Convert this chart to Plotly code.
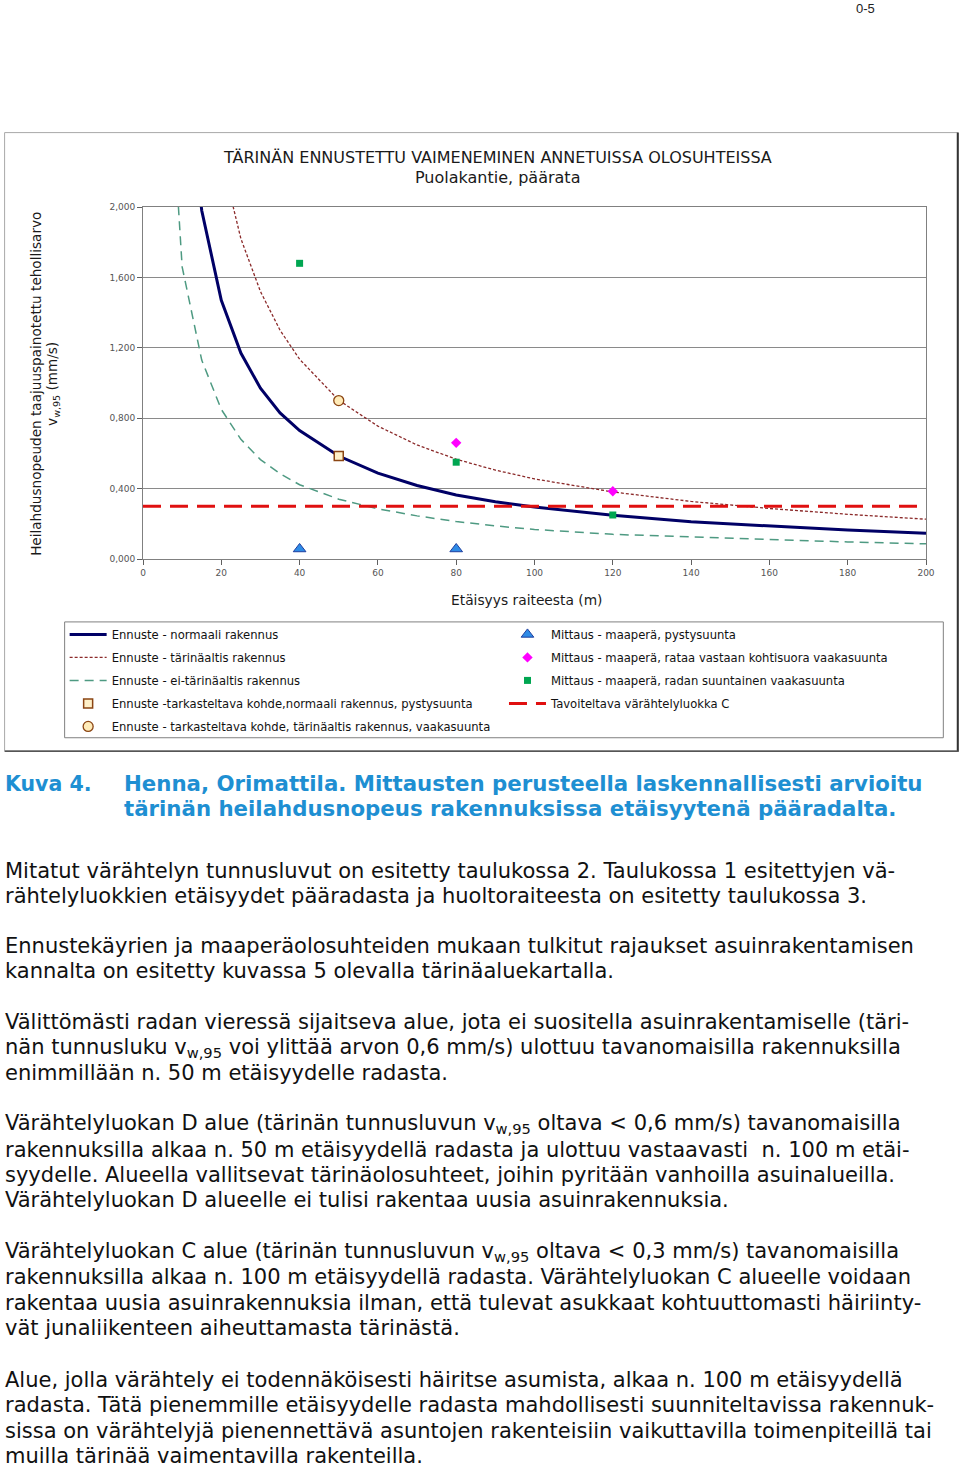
import plotly.graph_objects as go

# ---------------- data ----------------
normal_x = [10, 15, 20, 25, 30, 35, 40, 50, 60, 70, 80, 90, 100, 120, 140, 160, 180, 200]
normal_v = [2.93, 1.98, 1.47, 1.17, 0.97, 0.83, 0.73, 0.585, 0.488, 0.418, 0.364, 0.325, 0.295, 0.248, 0.211, 0.187, 0.165, 0.146]

vuln_x = [20, 25, 30, 35, 40, 50, 60, 70, 80, 90, 100, 120, 140, 160, 180, 200]
vuln_v = [2.28, 1.82, 1.52, 1.30, 1.135, 0.902, 0.755, 0.648, 0.567, 0.505, 0.455, 0.381, 0.327, 0.287, 0.254, 0.226]

nonvuln_x = [5, 10, 15, 20, 25, 30, 35, 40, 50, 60, 70, 80, 90, 100, 120, 140, 160, 180, 200]
nonvuln_v = [3.45, 1.66, 1.13, 0.85, 0.68, 0.565, 0.485, 0.422, 0.34, 0.285, 0.245, 0.213, 0.188, 0.168, 0.140, 0.124, 0.111, 0.097, 0.086]

pred_sq_x = [50]
pred_sq_v = [0.585]
pred_circ_x = [50]
pred_circ_v = [0.90]

meas_tri_x = [40, 80]
meas_tri_v = [0.057, 0.057]
meas_dia_x = [80, 120]
meas_dia_v = [0.66, 0.385]
meas_sq_x = [40, 80, 120]
meas_sq_v = [1.68, 0.55, 0.25]

target_x = [0, 200]
target_v = [0.3, 0.3]

y_ticks = [0, 0.4, 0.8, 1.2, 1.6, 2.0]
y_ticktext = ["0,000", "0,400", "0,800", "1,200", "1,600", "2,000"]
x_ticks = [0, 20, 40, 60, 80, 100, 120, 140, 160, 180, 200]

names = [
    "Ennuste - normaali rakennus",
    "Ennuste - tärinäaltis rakennus",
    "Ennuste - ei-tärinäaltis rakennus",
    "Ennuste -tarkasteltava kohde,normaali rakennus, pystysuunta",
    "Ennuste - tarkasteltava kohde, tärinäaltis rakennus, vaakasuunta",
    "Mittaus - maaperä, pystysuunta",
    "Mittaus - maaperä, rataa vastaan kohtisuora vaakasuunta",
    "Mittaus - maaperä, radan suuntainen vaakasuunta",
    "Tavoiteltava värähtelyluokka C",
]

chart_title = ["TÄRINÄN ENNUSTETTU VAIMENEMINEN ANNETUISSA OLOSUHTEISSA", "Puolakantie, päärata"]
y_title = ["Heilahdusnopeuden taajuuspainotettu tehollisarvo", "v<sub>w,95</sub> (mm/s)"]
x_title = "Etäisyys raiteesta (m)"

caption_label = "Kuva 4."
caption_lines = [
    "Henna, Orimattila. Mittausten perusteella laskennallisesti arvioitu",
    "tärinän heilahdusnopeus rakennuksissa etäisyytenä pääradalta.",
]
body_lines = [
    (871, "Mitatut värähtelyn tunnusluvut on esitetty taulukossa 2. Taulukossa 1 esitettyjen vä-"),
    (896, "rähtelyluokkien etäisyydet pääradasta ja huoltoraiteesta on esitetty taulukossa 3."),
    (947, "Ennustekäyrien ja maaperäolosuhteiden mukaan tulkitut rajaukset asuinrakentamisen"),
    (972, "kannalta on esitetty kuvassa 5 olevalla tärinäaluekartalla."),
    (1023, "Välittömästi radan vieressä sijaitseva alue, jota ei suositella asuinrakentamiselle (täri-"),
    (1049, "nän tunnusluku v<sub>w,95</sub> voi ylittää arvon 0,6 mm/s) ulottuu tavanomaisilla rakennuksilla"),
    (1074, "enimmillään n. 50 m etäisyydelle radasta."),
    (1125, "Värähtelyluokan D alue (tärinän tunnusluvun v<sub>w,95</sub> oltava &lt; 0,6 mm/s) tavanomaisilla"),
    (1151, "rakennuksilla alkaa n. 50 m etäisyydellä radasta ja ulottuu vastaavasti  n. 100 m etäi-"),
    (1176, "syydelle. Alueella vallitsevat tärinäolosuhteet, joihin pyritään vanhoilla asuinalueilla."),
    (1201, "Värähtelyluokan D alueelle ei tulisi rakentaa uusia asuinrakennuksia."),
    (1253, "Värähtelyluokan C alue (tärinän tunnusluvun v<sub>w,95</sub> oltava &lt; 0,3 mm/s) tavanomaisilla"),
    (1278, "rakennuksilla alkaa n. 100 m etäisyydellä radasta. Värähtelyluokan C alueelle voidaan"),
    (1304, "rakentaa uusia asuinrakennuksia ilman, että tulevat asukkaat kohtuuttomasti häiriinty-"),
    (1329, "vät junaliikenteen aiheuttamasta tärinästä."),
    (1381, "Alue, jolla värähtely ei todennäköisesti häiritse asumista, alkaa n. 100 m etäisyydellä"),
    (1406, "radasta. Tätä pienemmille etäisyydelle radasta mahdollisesti suunniteltavissa rakennuk-"),
    (1432, "sissa on värähtelyjä pienennettävä asuntojen rakenteisiin vaikuttavilla toimenpiteillä tai"),
    (1457, "muilla tärinää vaimentavilla rakenteilla."),
]
page_no = "0-5"

# ---------------- layout geometry ----------------
FIG_W, FIG_H = 960, 1467
L, R, T, B = 143.3, 925.7, 206.5, 559.0
W, H = R - L, B - T


def px(x):
    return (x - L) / W


def py(y):
    return (B - y) / H


CF = "DejaVu Sans"

fig = go.Figure()

fig.add_trace(go.Scatter(x=normal_x, y=normal_v, mode="lines", name=names[0],
                         line=dict(color="#000066", width=3), legend="legend", legendgroup="g0"))
fig.add_trace(go.Scatter(x=vuln_x, y=vuln_v, mode="lines", name=names[1],
                         line=dict(color="#8B2A2A", width=1.3, dash="3px,2px"), legend="legend", legendgroup="g1"))
fig.add_trace(go.Scatter(x=nonvuln_x, y=nonvuln_v, mode="lines", name=names[2],
                         line=dict(color="#4E9A82", width=1.5, dash="9px,6px"), legend="legend", legendgroup="g2"))
fig.add_trace(go.Scatter(x=pred_sq_x, y=pred_sq_v, mode="markers", name=names[3],
                         marker=dict(symbol="square", size=9, color="#FFF0C8",
                                     line=dict(color="#8B4513", width=1.5)), legend="legend", legendgroup="g3"))
fig.add_trace(go.Scatter(x=pred_circ_x, y=pred_circ_v, mode="markers", name=names[4],
                         marker=dict(symbol="circle", size=10, color="#FFEBB8",
                                     line=dict(color="#8B4513", width=1.3)), legend="legend", legendgroup="g4"))

fig.add_trace(go.Scatter(x=meas_tri_x, y=meas_tri_v, mode="markers", name=names[5],
                         marker=dict(symbol="triangle-up", size=11, color="#2E8BE6",
                                     line=dict(color="#1F3F9F", width=1)), legend="legend2", legendgroup="h0"))
fig.add_trace(go.Scatter(x=meas_dia_x, y=meas_dia_v, mode="markers", name=names[6],
                         marker=dict(symbol="diamond", size=8, color="#FF00FF"), legend="legend2", legendgroup="h1"))
fig.add_trace(go.Scatter(x=meas_sq_x, y=meas_sq_v, mode="markers", name=names[7],
                         marker=dict(symbol="square", size=7, color="#00A651"), legend="legend2", legendgroup="h2"))
fig.add_trace(go.Scatter(x=target_x, y=target_v, mode="lines", name=names[8],
                         line=dict(color="#E01010", width=3, dash="18px,9px"), legend="legend2", legendgroup="h3"))

annotations = []
for i, (t, yy) in enumerate(zip(chart_title, [157, 177])):
    annotations.append(dict(text=t, x=px(498), y=py(yy), xref="paper", yref="paper", showarrow=False,
                            xanchor="center", yanchor="middle", font=dict(family=CF, size=16, color="#1a1a1a")))
for t, xx in zip(y_title, [37, 54]):
    annotations.append(dict(text=t, x=px(xx), y=py(384), xref="paper", yref="paper", showarrow=False,
                            textangle=-90, xanchor="center", yanchor="middle",
                            font=dict(family=CF, size=13.6, color="#1a1a1a")))
annotations.append(dict(text=x_title, x=px(527), y=py(600), xref="paper", yref="paper", showarrow=False,
                        xanchor="center", yanchor="middle", font=dict(family=CF, size=13.8, color="#1a1a1a")))

BLUE = "#1E8FD2"
TF = "DejaVu Sans"
annotations.append(dict(text="<b>" + caption_label + "</b>", x=px(3), y=py(784), xref="paper", yref="paper",
                        showarrow=False, xanchor="left", yanchor="middle",
                        font=dict(family=TF, size=20.5, color=BLUE)))
for t, yy in zip(caption_lines, [784, 809]):
    annotations.append(dict(text="<b>" + t + "</b>", x=px(122), y=py(yy), xref="paper", yref="paper",
                            showarrow=False, xanchor="left", yanchor="middle",
                            font=dict(family=TF, size=21.3, color=BLUE)))
for yy, t in body_lines:
    annotations.append(dict(text=t, x=px(3), y=py(yy), xref="paper", yref="paper",
                            showarrow=False, xanchor="left", yanchor="middle",
                            font=dict(family=TF, size=21, color="#111111")))
annotations.append(dict(text=page_no, x=px(865), y=py(8), xref="paper", yref="paper", showarrow=False,
                        xanchor="center", yanchor="middle",
                        font=dict(family="Liberation Sans Narrow, Liberation Sans", size=13, color="#222")))

shapes = [
    # chart frame
    dict(type="rect", xref="paper", yref="paper", x0=px(5), x1=px(957), y0=py(132), y1=py(751),
         line=dict(color="#A8A8A8", width=1), layer="below"),
    dict(type="line", xref="paper", yref="paper", x0=px(957.5), x1=px(957.5), y0=py(132), y1=py(752),
         line=dict(color="#333333", width=2)),
    dict(type="line", xref="paper", yref="paper", x0=px(5), x1=px(958), y0=py(751.5), y1=py(751.5),
         line=dict(color="#555555", width=1.5)),
    # legend box
    dict(type="rect", xref="paper", yref="paper", x0=px(65), x1=px(943), y0=py(622), y1=py(738),
         line=dict(color="#808080", width=1), layer="below"),
]

legend_font = dict(family=CF, size=11.6, color="#111111")

fig.update_layout(
    width=FIG_W, height=FIG_H, autosize=False,
    margin=dict(l=L, r=FIG_W - R, t=T, b=FIG_H - B, pad=0),
    paper_bgcolor="white", plot_bgcolor="white",
    showlegend=True,
    legend=dict(x=px(65), y=py(620), xanchor="left", yanchor="top", bgcolor="rgba(0,0,0,0)",
                borderwidth=0, font=legend_font, itemwidth=37, tracegroupgap=4, traceorder="grouped",
                itemclick=False, itemdoubleclick=False),
    legend2=dict(x=px(504), y=py(620), xanchor="left", yanchor="top", bgcolor="rgba(0,0,0,0)",
                 borderwidth=0, font=legend_font, itemwidth=37, tracegroupgap=4, traceorder="grouped",
                 itemclick=False, itemdoubleclick=False),
    xaxis=dict(range=[0, 200], tickvals=x_ticks, ticktext=[str(v) for v in x_ticks],
               showgrid=False, zeroline=False, showline=True, linecolor="#808080", linewidth=1,
               mirror=True, ticks="outside", ticklen=5, tickcolor="#606060",
               tickfont=dict(family=CF, size=9, color="#555555")),
    yaxis=dict(range=[0, 2.0], tickvals=y_ticks, ticktext=y_ticktext,
               showgrid=True, gridcolor="#8A8A8A", gridwidth=1, zeroline=False,
               showline=True, linecolor="#808080", linewidth=1, mirror=True,
               ticks="outside", ticklen=5, tickcolor="#606060",
               tickfont=dict(family=CF, size=9, color="#555555")),
    annotations=annotations,
    shapes=shapes,
)

fig.write_html("out.html")
